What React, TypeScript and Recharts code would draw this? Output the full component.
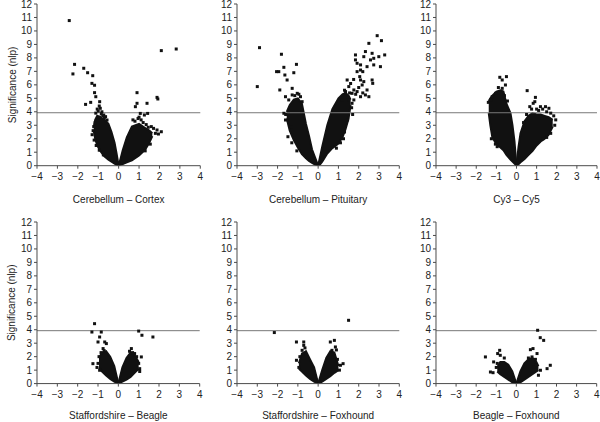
import { ComposedChart, Area, Scatter, XAxis, YAxis, ReferenceLine } from 'recharts';

// dense body of each volcano arm: [log ratio, lower edge, upper edge]
const ccCoreLeft = [
  [-1.22, 2.6, 2.9], [-1.15, 2.0, 3.4], [-1.05, 1.5, 3.7], [-0.9, 1.1, 3.6], [-0.7, 0.7, 3.4],
  [-0.5, 0.45, 3.1], [-0.35, 0.3, 2.5], [-0.2, 0.15, 1.7], [-0.1, 0.07, 0.9], [0, 0, 0],
];
const ccCoreRight = [
  [0, 0, 0], [0.1, 0.06, 0.55], [0.2, 0.12, 1.15], [0.4, 0.25, 2.1], [0.65, 0.4, 2.9],
  [1.0, 0.75, 3.1], [1.3, 1.2, 2.8], [1.5, 1.7, 2.6], [1.65, 2.2, 2.4],
];
const cpCoreLeft = [
  [-1.55, 3.5, 4.0], [-1.4, 2.6, 4.5], [-1.2, 1.9, 4.9], [-1.0, 1.35, 5.0], [-0.8, 0.85, 4.6],
  [-0.6, 0.55, 3.1], [-0.45, 0.35, 2.2], [-0.3, 0.2, 1.2], [-0.15, 0.08, 0.6], [0, 0, 0],
];
const cpCoreRight = [
  [0, 0, 0], [0.1, 0.1, 0.7], [0.2, 0.3, 1.4], [0.45, 0.9, 3.0], [0.7, 1.3, 4.2],
  [1.0, 1.65, 5.0], [1.2, 2.1, 5.3], [1.35, 2.7, 5.4], [1.5, 3.5, 5.2], [1.6, 4.5, 4.9],
];
const cyCoreLeft = [
  [-1.38, 3.9, 4.8], [-1.3, 3.0, 5.0], [-1.2, 2.1, 5.2], [-1.0, 1.6, 5.5], [-0.8, 1.35, 5.6],
  [-0.65, 1.15, 5.5], [-0.5, 0.8, 4.6], [-0.3, 0.45, 3.9], [-0.2, 0.3, 3.0], [-0.1, 0.15, 1.8], [0, 0, 0],
];
const cyCoreRight = [
  [0, 0, 0], [0.1, 0.1, 1.4], [0.2, 0.25, 2.4], [0.4, 0.5, 3.3], [0.6, 0.8, 3.7], [0.8, 1.1, 3.9],
  [1.0, 1.5, 3.8], [1.2, 1.8, 3.8], [1.4, 2.0, 3.7], [1.6, 2.3, 3.6], [1.8, 2.9, 3.4],
];
const sbCoreLeft = [
  [-0.95, 1.2, 1.9], [-0.8, 0.9, 2.3], [-0.6, 0.6, 2.4], [-0.4, 0.35, 2.0], [-0.2, 0.15, 1.3], [0, 0, 0],
];
const sbCoreRight = [
  [0, 0, 0], [0.2, 0.15, 1.2], [0.4, 0.3, 1.9], [0.6, 0.5, 2.3], [0.8, 0.8, 2.1], [1.0, 1.1, 1.6],
];
const sfCoreLeft = [
  [-0.95, 1.1, 1.5], [-0.8, 0.9, 2.2], [-0.6, 0.6, 2.4], [-0.4, 0.35, 1.8], [-0.2, 0.15, 1.2], [0, 0, 0],
];
const sfCoreRight = [
  [0, 0, 0], [0.2, 0.15, 1.0], [0.4, 0.35, 1.9], [0.6, 0.55, 2.4], [0.8, 0.8, 2.3], [1.0, 1.0, 1.3],
];
const bfCoreLeft = [
  [-0.95, 0.9, 1.2], [-0.8, 0.7, 1.6], [-0.6, 0.5, 1.6], [-0.4, 0.3, 1.4], [-0.2, 0.1, 0.9], [0, 0, 0],
];
const bfCoreRight = [
  [0, 0, 0], [0.2, 0.1, 0.9], [0.4, 0.3, 1.5], [0.6, 0.5, 1.8], [0.8, 0.7, 1.9], [1.0, 0.9, 1.6], [1.1, 1.0, 1.3],
];

// single genes outside the dense bodies: [log ratio, significance]
const ccPoints = [
  [-2.42, 10.77], [-2.16, 7.52], [-2.24, 6.81], [-1.71, 7.23], [-1.52, 6.9], [-1.27, 6.68], [-1.31, 6.11],
  [-1.18, 5.97], [-1.18, 5.42], [-1.12, 5.12], [-1.62, 4.55], [-1.37, 4.7], [-0.93, 4.75], [-0.95, 4.43],
  [0.9, 5.42], [0.9, 4.63], [0.82, 4.38], [1.39, 4.63], [1.88, 5.07], [1.92, 4.95], [2.09, 8.54], [2.82, 8.66],
  [1.06, 3.88], [1.26, 3.76], [1.42, 3.88],
  [-1.05, 4.2], [-0.9, 4.26], [-0.82, 4.0], [-0.73, 3.76], [-0.64, 3.64], [-0.57, 3.39], [-1.22, 2.9],
  [-1.12, 3.9], [-1.0, 4.05], [-0.85, 3.85], [-0.7, 3.55], [-1.25, 2.6], [-1.15, 3.2], [-0.95, 3.6], [-0.78, 3.7],
  [-1.3, 2.3], [-1.1, 1.5], [-0.95, 1.15], [-0.75, 0.8], [-1.2, 1.9],
  [1.71, 2.77], [1.88, 2.65], [2.09, 2.52], [1.8, 2.4], [1.95, 2.35], [1.6, 2.9], [1.2, 3.2], [1.1, 3.4],
  [0.95, 3.5], [0.8, 3.3], [0.7, 3.4], [1.45, 2.85], [1.35, 3.05], [1.0, 3.6], [1.55, 1.6], [1.3, 1.1],
];
const cpPoints = [
  [-2.89, 8.76], [-3.0, 5.87], [-1.81, 8.27], [-2.05, 6.98], [-1.94, 6.98], [-1.69, 7.3], [-1.64, 6.73],
  [-1.53, 6.36], [-1.2, 6.9], [-1.07, 7.52], [-1.89, 5.62], [-1.28, 5.74], [-1.61, 5.12], [-1.45, 4.88],
  [-1.28, 5.25], [-1.03, 5.37], [-0.87, 5.12], [-0.79, 4.75], [-1.69, 3.89], [-1.61, 3.39], [-1.49, 2.15],
  [-1.36, 2.9], [-1.15, 5.2], [-0.95, 5.3], [-1.3, 1.7], [-1.05, 1.1], [-1.6, 3.8],
  [1.76, 5.62], [2.09, 6.36], [1.92, 7.6], [2.25, 8.09], [2.33, 8.47], [2.5, 9.08], [2.91, 9.65], [3.12, 9.28],
  [2.66, 8.34], [2.58, 7.85], [2.74, 7.97], [2.99, 8.09], [3.28, 8.22], [3.07, 7.35], [2.74, 7.48], [2.09, 7.48],
  [1.84, 8.22], [2.2, 6.98], [2.41, 7.35], [2.05, 6.61], [2.25, 6.24], [2.66, 6.36], [2.69, 6.11], [2.41, 5.62],
  [2.33, 5.25], [2.09, 5.12], [1.92, 5.5], [1.67, 5.37], [1.51, 4.88], [1.43, 6.36], [1.51, 5.87], [1.35, 5.5],
  [1.18, 4.88], [1.84, 7.85], [1.92, 6.98], [2.09, 7.1], [2.17, 5.99], [2.5, 5.12], [1.76, 4.88], [1.67, 4.63],
  [1.3, 5.6], [1.6, 6.1], [1.75, 6.4], [1.55, 5.4], [1.45, 5.1], [1.85, 5.3], [2.0, 5.8], [2.2, 5.4],
  [1.65, 4.3], [1.7, 3.8], [1.45, 3.4], [1.25, 2.0], [1.1, 1.7], [1.3, 2.5], [0.9, 1.3],
];
const cyPoints = [
  [-0.83, 6.56], [-0.71, 6.36], [-0.5, 6.61], [-0.55, 5.99], [-0.71, 5.74], [0.53, 5.57], [0.94, 5.07],
  [0.91, 4.75], [1.19, 4.38], [1.44, 4.38], [1.61, 4.26], [0.66, 4.38], [0.83, 4.63], [-1.04, 5.37],
  [-1.29, 4.88], [-1.21, 5.12], [-1.4, 4.7], [-0.9, 5.8], [-0.6, 5.2], [-0.45, 4.8], [1.7, 3.9], [1.85, 3.7],
  [1.95, 3.4], [1.9, 3.0], [1.7, 2.4], [1.3, 2.0], [1.1, 4.1], [0.5, 3.8], [0.35, 3.2], [0.75, 4.2],
  [1.5, 4.0], [1.3, 4.2], [1.0, 4.2], [-0.96, 1.41], [-1.05, 1.6], [-1.25, 2.0], [1.5, 2.1],
];
const sbPoints = [
  [-1.17, 4.45], [-1.3, 3.83], [-0.84, 3.83], [-0.92, 3.46], [-1.0, 3.09], [-0.67, 3.09], [-0.59, 2.97],
  [-1.25, 1.48], [1.0, 3.9], [1.16, 3.59], [1.7, 3.46], [0.64, 2.6], [0.8, 2.23], [1.13, 1.98], [1.05, 1.11],
  [1.05, 0.9], [-0.92, 0.99], [-0.75, 2.6], [-0.85, 2.3], [-0.7, 2.45], [0.7, 2.3], [0.9, 2.0], [0.55, 2.4],
  [-1.0, 1.5], [-1.05, 1.2], [1.0, 1.5], [-0.95, 2.0],
];
const sfPoints = [
  [-2.16, 3.79], [1.5, 4.7], [-1.07, 3.09], [-0.71, 3.09], [-0.71, 2.84], [-0.79, 2.47], [-1.07, 1.73],
  [0.6, 3.09], [0.8, 3.21], [0.85, 2.72], [0.68, 2.47], [1.23, 1.48], [1.1, 1.36], [-0.9, 2.0], [-0.65, 2.65],
  [0.9, 2.5], [0.75, 2.0], [0.95, 1.8], [-0.95, 1.2], [1.05, 1.0], [-0.75, 2.2],
];
const bfPoints = [
  [1.06, 3.96], [1.19, 3.41], [1.36, 3.21], [-1.54, 1.98], [-0.83, 2.47], [-0.93, 2.23], [-0.8, 2.1],
  [-1.13, 1.61], [-1.29, 0.86], [-1.16, 0.81], [0.7, 2.52], [0.83, 2.6], [1.03, 2.23], [0.78, 1.98],
  [1.69, 1.36], [1.53, 1.11], [1.2, 0.99], [1.1, 0.62], [-0.6, 1.9], [-0.95, 1.5], [0.95, 1.8], [1.0, 1.4],
  [0.9, 1.2], [-1.0, 1.2], [0.6, 1.9],
];

const xTicks = [-4, -3, -2, -1, 0, 1, 2, 3, 4];
const yTicks = [0, 1, 2, 3, 4, 5, 6, 7, 8, 9, 10, 11, 12];
const cutoff = 3.93;

const panels = [
  { title: 'Cerebellum – Cortex', coreL: ccCoreLeft, coreR: ccCoreRight, pts: ccPoints, px: 36.7, py: 4, pw: 163.3, ph: 161.7, xh: 37, yLabel: true },
  { title: 'Cerebellum – Pituitary', coreL: cpCoreLeft, coreR: cpCoreRight, pts: cpPoints, px: 236.7, py: 4, pw: 162.3, ph: 161.7, xh: 37, yLabel: false },
  { title: 'Cy3 – Cy5', coreL: cyCoreLeft, coreR: cyCoreRight, pts: cyPoints, px: 435.7, py: 4, pw: 161, ph: 161.7, xh: 37, yLabel: false },
  { title: 'Staffordshire – Beagle', coreL: sbCoreLeft, coreR: sbCoreRight, pts: sbPoints, px: 37.3, py: 221.7, pw: 162.7, ph: 161.6, xh: 35, yLabel: true },
  { title: 'Staffordshire – Foxhound', coreL: sfCoreLeft, coreR: sfCoreRight, pts: sfPoints, px: 236.7, py: 221.7, pw: 162.3, ph: 161.6, xh: 35, yLabel: false },
  { title: 'Beagle – Foxhound', coreL: bfCoreLeft, coreR: bfCoreRight, pts: bfPoints, px: 436, py: 221.7, pw: 160.7, ph: 161.6, xh: 35, yLabel: false },
];

const FONT = '"Liberation Sans", Arial, sans-serif';
const AXIS = '#4a4a4a';
const INK = '#111';
const Y_W = 37;

const fmt = (v: number) => (v < 0 ? '\u2212' + Math.abs(v) : String(v));

const SquareDot = (p: any) => (
  <rect x={p.cx - 1.5} y={p.cy - 1.5} width={3} height={3} fill={INK} />
);

function Panel({ cfg }: { cfg: (typeof panels)[number] }) {
  const mTop = 8;
  const mRight = 12;
  const mBottom = 5;
  const width = Y_W + cfg.pw + mRight;
  const height = mTop + cfg.ph + cfg.xh + mBottom;
  const left = cfg.coreL.map(([x, lo, hi]) => ({ x, r: [lo, hi] }));
  const right = cfg.coreR.map(([x, lo, hi]) => ({ x, r: [lo, hi] }));
  const pts = cfg.pts.map(([x, y]) => ({ x, y }));

  return (
    <div style={{ position: 'absolute', left: cfg.px - Y_W, top: cfg.py - mTop }}>
      <ComposedChart width={width} height={height} margin={{ top: mTop, right: mRight, bottom: mBottom, left: 0 }}>
        <XAxis
          type="number"
          dataKey="x"
          domain={[-4, 4]}
          ticks={xTicks}
          tickFormatter={fmt}
          allowDataOverflow
          height={cfg.xh}
          stroke={AXIS}
          tickSize={3}
          tickMargin={4}
          tick={{ fontSize: 10, fill: '#222', fontFamily: FONT }}
          label={{ value: cfg.title, position: 'insideBottom', offset: 0, fontSize: 10, fill: '#222', fontFamily: FONT }}
        />
        <YAxis
          type="number"
          dataKey="y"
          domain={[0, 12]}
          ticks={yTicks}
          interval={0}
          allowDataOverflow
          width={Y_W}
          stroke={AXIS}
          tickSize={3}
          tick={{ fontSize: 10, fill: '#222', fontFamily: FONT }}
          label={
            cfg.yLabel
              ? {
                  content: (props: any) => {
                    const vb = props.viewBox;
                    const lx = vb.x + 12;
                    const ly = vb.y + vb.height / 2;
                    return (
                      <text
                        x={lx}
                        y={ly}
                        transform={`rotate(-90 ${lx} ${ly})`}
                        textAnchor="middle"
                        dominantBaseline="central"
                        fontSize={10}
                        fill="#222"
                        fontFamily={FONT}
                      >
                        Significance (nlp)
                      </text>
                    );
                  },
                }
              : undefined
          }
        />
        <Area data={left} dataKey="r" type="linear" fill={INK} fillOpacity={1} stroke={INK} strokeWidth={2} dot={false} activeDot={false} isAnimationActive={false} />
        <Area data={right} dataKey="r" type="linear" fill={INK} fillOpacity={1} stroke={INK} strokeWidth={2} dot={false} activeDot={false} isAnimationActive={false} />
        <Scatter data={pts} dataKey="y" shape={SquareDot} isAnimationActive={false} />
        <ReferenceLine y={cutoff} stroke="#777" strokeWidth={1} />
      </ComposedChart>
    </div>
  );
}

export default function App() {
  return (
    <div style={{ position: 'absolute', left: 0, top: 0, width: 600, height: 422, background: '#fff', fontFamily: FONT }}>
      {panels.map((p) => (
        <Panel key={p.title} cfg={p} />
      ))}
    </div>
  );
}
